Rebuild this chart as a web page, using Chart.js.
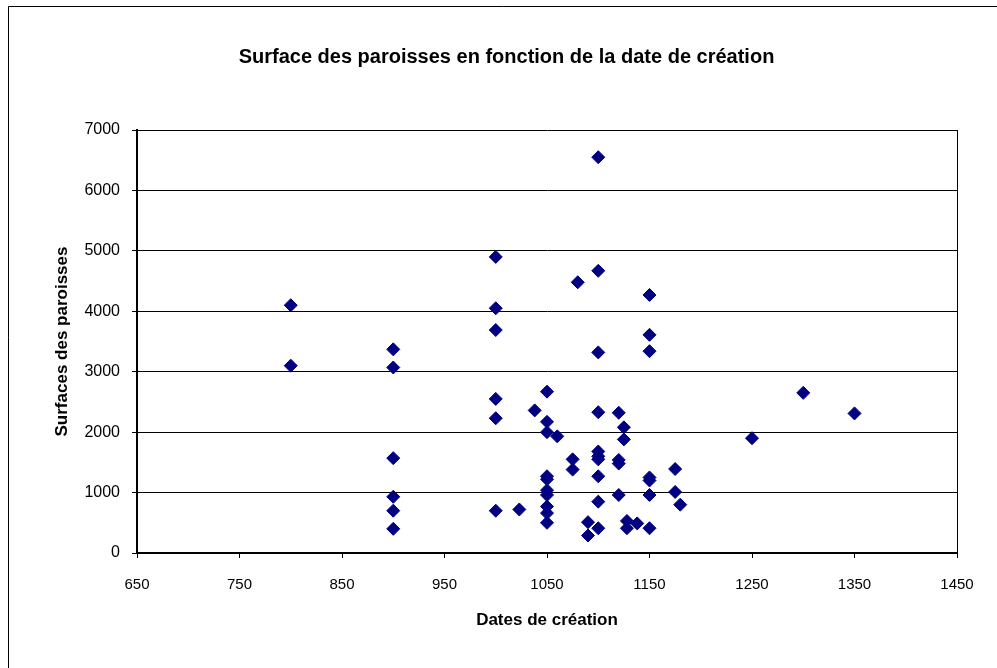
<!DOCTYPE html>
<html>
<head>
<meta charset="utf-8">
<script src="https://cdn.jsdelivr.net/npm/chart.js@4.4.0/dist/chart.umd.min.js"></script>
<style>
  html, body { margin: 0; padding: 0; background: #fff; }
  #wrap { width: 997px; height: 668px; position: relative; }
</style>
</head>
<body>
<div id="wrap"><canvas id="scatter"></canvas></div>
<script>
// Dates de création (x) et surfaces (y), une paroisse par point
const dates = [
  800, 800,
  900, 900, 900, 900, 900, 900,
  1000, 1000, 1000, 1000, 1000, 1000,
  1023, 1038,
  1050, 1050, 1050, 1050, 1050, 1050, 1050, 1050, 1050, 1050,
  1060, 1075, 1075, 1080, 1090, 1090,
  1100, 1100, 1100, 1100, 1100, 1100, 1100, 1100, 1100, 1100,
  1120, 1120, 1120, 1120, 1125, 1125,
  1128, 1128, 1138,
  1150, 1150, 1150, 1150, 1150, 1150, 1150,
  1175, 1175, 1180,
  1250, 1300, 1350
];
const surfaces = [
  4100, 3100,
  3370, 3070, 1570, 930, 700, 400,
  4900, 4050, 3690, 2550, 2230, 700,
  720, 2360,
  2670, 2170, 2000, 1270, 1220, 1040, 960, 770, 660, 500,
  1930, 1550, 1380, 4480, 510, 290,
  6550, 4670, 3320, 2330, 1680, 1600, 1550, 1270, 850, 410,
  2320, 1540, 1480, 960, 2080, 1880,
  530, 410, 490,
  4270, 3610, 3340, 1250, 1200, 960, 410,
  1390, 1010, 800,
  1900, 2650, 2310
];

const xTicks = [650, 1450, 100];   // min, max, pas
const yTicks = [0, 7000, 1000];

const points = dates.map((d, i) => ({ x: d, y: surfaces[i] }));

// cadre extérieur (haut et gauche seulement)
const frame = {
  id: 'frame',
  beforeDraw(chart) {
    const c = chart.ctx;
    c.save();
    c.fillStyle = '#fff';
    c.fillRect(0, 0, chart.width, chart.height);
    c.strokeStyle = '#000';
    c.lineWidth = 1;
    c.beginPath();
    c.moveTo(8.5, chart.height);
    c.lineTo(8.5, 6.5);
    c.lineTo(chart.width, 6.5);
    c.stroke();
    c.restore();
  }
};

const family = 'Liberation Sans, Arial, sans-serif';
const axisFont = { family, size: 17, weight: 'bold' };

new Chart(document.getElementById('scatter'), {
  type: 'scatter',
  data: {
    datasets: [{
      label: 'Surfaces',
      data: points,
      pointStyle: 'rectRot',
      pointRadius: 6.5,
      pointHoverRadius: 6.5,
      backgroundColor: '#000080',
      borderColor: '#000080',
      borderWidth: 1
    }]
  },
  plugins: [frame],
  options: {
    responsive: true,
    maintainAspectRatio: false,
    animation: false,
    layout: { padding: { left: 16, right: 0, top: 0, bottom: 0 } },
    plugins: {
      legend: { display: false },
      tooltip: { enabled: false },
      title: {
        display: true,
        text: 'Surface des paroisses en fonction de la date de création',
        color: '#000',
        font: { family, size: 20, weight: 'bold' },
        padding: { top: 45, bottom: 61 }
      }
    },
    scales: {
      x: {
        type: 'linear',
        min: xTicks[0],
        max: xTicks[1],
        afterFit(s) { s.height = 115; },
        ticks: {
          stepSize: xTicks[2], color: '#000', font: { family, size: 15 },
          padding: 18, maxRotation: 0, callback: v => String(v)
        },
        grid: {
          drawOnChartArea: true,
          color: ctx => (ctx.tick && ctx.tick.value === xTicks[1]) ? '#000' : 'rgba(0,0,0,0)',
          tickColor: '#000',
          tickLength: 5,
          lineWidth: 1
        },
        border: { color: '#000', width: 2 },
        title: {
          display: true,
          text: 'Dates de création',
          color: '#000',
          font: axisFont,
          padding: { top: 0, bottom: 37 }
        }
      },
      y: {
        min: yTicks[0],
        max: yTicks[1],
        afterFit(s) { s.width = 121; },
        ticks: {
          stepSize: yTicks[2], color: '#000', font: { family, size: 16 },
          padding: 12, callback: v => String(v)
        },
        grid: { color: '#000', tickColor: '#000', tickLength: 5, lineWidth: 1 },
        border: { color: '#000', width: 2 },
        title: {
          display: true,
          text: 'Surfaces des paroisses',
          color: '#000',
          font: axisFont,
          padding: { top: 36, bottom: 0 }
        }
      },
      // marge droite : axe vide qui réserve 40 px
      right: {
        position: 'right',
        min: yTicks[0],
        max: yTicks[1],
        afterFit(s) { s.width = 40; },
        ticks: { display: false },
        grid: { display: false },
        border: { display: false }
      }
    }
  }
});
</script>
</body>
</html>
